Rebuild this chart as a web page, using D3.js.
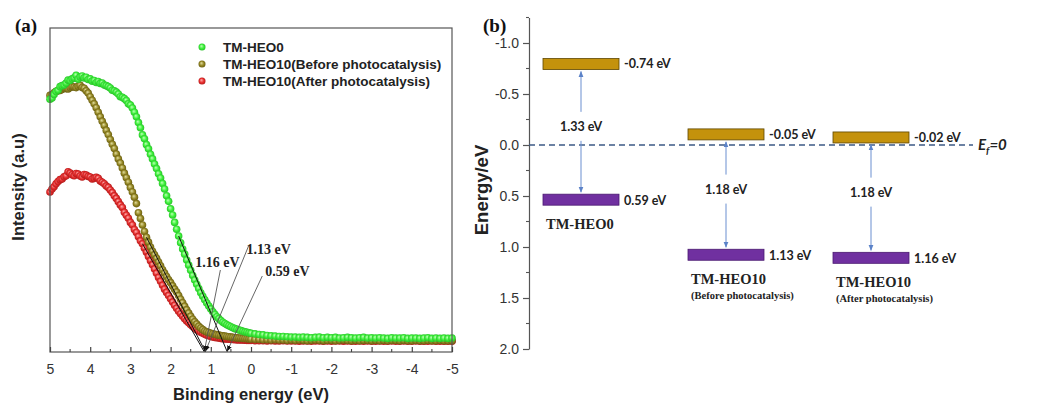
<!DOCTYPE html>
<html>
<head>
<meta charset="utf-8">
<script src="https://cdn.jsdelivr.net/npm/d3@7"></script>
<style>
  body { margin: 0; background: #fff; }
  svg { display: block; }
</style>
</head>
<body>
<svg id="chart" width="1043" height="403"></svg>
<script>
// ---------- (a) valence-band XPS spectra ----------
// sampled every 0.05 eV from 5 to 0 eV, every 0.1 eV below the Fermi level
const energies = d3.range(0, 101).map(i => +(5 - i * 0.05).toFixed(2))
  .concat(d3.range(1, 51).map(i => +(-i * 0.1).toFixed(1)));

const heo0 = [
  78, 78.4, 79.5, 80.4, 80.8, 81.9, 82.2, 82.4, 83, 83.9, 83.8, 84.3, 84.6, 85.4, 84.2, 84.9, 85.2, 84.6, 84.8, 84.1,
  84.3, 83.6, 83.8, 83.2, 83.5, 82.9, 83, 82.4, 82.2, 81.9, 81.5, 80.8, 80.6, 80.2, 79.6, 78.8, 78.6, 78.2, 77.6, 76.6,
  76.2, 75.3, 74, 72.6, 70.8, 69.2, 67, 65.8, 64, 62.7, 61, 59.6, 58, 56.6, 55, 53.7, 52, 50.3, 48.2, 46.5,
  44.2, 42.3, 40, 37.9, 35.8, 33.7, 31.8, 30.2, 28.4, 26.8, 25.2, 23.6, 22.2, 20.9, 19.6, 18.3, 17.2, 16.1, 15.1, 14.2,
  13.3, 12.4, 11.6, 10.9, 10.3, 9.7, 9.2, 8.8, 8.4, 8.1, 7.8, 7.5, 7.2, 7.0, 6.8, 6.6, 6.4, 6.2, 6.1, 5.9,
  5.8,
  5.6, 5.4, 5.3, 5.1, 5.0, 4.9, 4.8, 4.8, 4.7, 4.6,
  4.6, 4.5, 4.6, 4.5, 4.4, 4.5, 4.6, 4.4, 4.5, 4.4,
  4.5, 4.3, 4.4, 4.5, 4.4, 4.3, 4.4, 4.5, 4.3, 4.4,
  4.3, 4.4, 4.3, 4.2, 4.4, 4.3, 4.3, 4.4, 4.2, 4.3,
  4.3, 4.2, 4.3, 4.4, 4.2, 4.3, 4.2, 4.3, 4.2, 4.3
];
const heo10Before = [
  79.2, 79.4, 80, 80.5, 80.6, 80.7, 81, 81.4, 81.3, 81.2, 81.6, 81.9, 81.8, 81.6, 82, 82.3, 81.6, 81.4, 80.6, 79.9,
  78.8, 77.7, 76.6, 75.4, 74, 72.6, 71.2, 69.9, 68.4, 67.1, 65.6, 64.1, 62.8, 61.1, 59.6, 58.3, 56.8, 55.2, 53.8, 52.4,
  50.8, 49.4, 47.8, 45.8, 43, 41.2, 39.2, 37.2, 35.4, 33.9, 32.4, 31.1, 30.0, 28.9, 27.8, 26.6, 25.4, 24.4, 23.3, 22.3,
  21.4, 20.4, 19.4, 18.5, 17.4, 16.3, 15.2, 14.1, 13, 12, 11, 10.1, 9.3, 8.6, 7.9, 7.4, 6.9, 6.5, 6.2, 6.0,
  5.8, 5.6, 5.5, 5.3, 5.2, 5.1, 5.0, 4.9, 4.8, 4.7, 4.6, 4.5, 4.4, 4.35, 4.3, 4.25, 4.2, 4.15, 4.1, 4.05,
  4.0,
  3.9, 3.9, 3.8, 3.8, 3.7, 3.8, 3.7, 3.7, 3.6, 3.7,
  3.6, 3.7, 3.6, 3.5, 3.6, 3.7, 3.6, 3.5, 3.6, 3.6,
  3.5, 3.6, 3.7, 3.6, 3.5, 3.6, 3.5, 3.6, 3.6, 3.5,
  3.6, 3.5, 3.6, 3.5, 3.6, 3.6, 3.5, 3.6, 3.5, 3.5,
  3.6, 3.5, 3.5, 3.6, 3.5, 3.5, 3.6, 3.5, 3.5, 3.5
];
const heo10After = [
  49.4, 50.3, 51, 51.9, 52.6, 53.2, 53.4, 54.1, 54.4, 55.6, 55.2, 54.7, 54.4, 55.1, 54.9, 54.3, 54, 54.8, 54.6, 54.2,
  54, 53.4, 53.6, 53.9, 53.6, 52.8, 52.4, 51.9, 51.2, 50.8, 50, 49.2, 48.2, 47.4, 46.4, 45.4, 44.6, 43.1, 42.2, 41.3,
  40, 39.2, 37.8, 36.9, 35.6, 34.3, 33.4, 32.0, 30.8, 29.5, 28.2, 26.9, 25.6, 24.3, 23, 21.8, 20.6, 19.4, 18.4, 17.4,
  16.4, 15.4, 14.4, 13.5, 12.6, 11.8, 11, 10.3, 9.6, 9.0, 8.4, 7.9, 7.4, 6.9, 6.5, 6.1, 5.8, 5.5, 5.2, 5.0,
  4.8, 4.65, 4.5, 4.4, 4.3, 4.2, 4.1, 4.05, 4.0, 3.95, 3.9, 3.85, 3.8, 3.75, 3.7, 3.7, 3.7, 3.65, 3.6, 3.6,
  3.6,
  3.5, 3.5, 3.5, 3.4, 3.5, 3.4, 3.4, 3.5, 3.4, 3.4,
  3.4, 3.3, 3.4, 3.4, 3.3, 3.4, 3.4, 3.3, 3.4, 3.3,
  3.4, 3.4, 3.3, 3.4, 3.3, 3.3, 3.4, 3.3, 3.4, 3.3,
  3.3, 3.4, 3.3, 3.3, 3.4, 3.3, 3.3, 3.4, 3.3, 3.3,
  3.4, 3.3, 3.3, 3.3, 3.4, 3.3, 3.3, 3.3, 3.3, 3.3
];
const seriesNames = ["TM-HEO0", "TM-HEO10(Before photocatalysis)", "TM-HEO10(After photocatalysis)"];
const edgeOnsets = [0.59, 1.13, 1.16];       // extrapolated VB edges, per series
const tangentFrom = [1.8, 2.6, 2.7];         // energy where each edge tangent starts
const xTicks = [5, 4, 3, 2, 1, 0, -1, -2, -3, -4, -5];
const xMinorTicks = [4.5, 3.5, 2.5, 1.5, 0.5, -0.5, -1.5, -2.5, -3.5, -4.5];

// ---------- (b) band alignment ----------
const samples = ["TM-HEO0", "TM-HEO10", "TM-HEO10"];
const conditions = ["", "(Before photocatalysis)", "(After photocatalysis)"];
const cbLevels = [-0.74, -0.05, -0.02];
const vbLevels = [0.59, 1.13, 1.16];
const bandGaps = [1.33, 1.18, 1.18];
const energyTicks = [-1.0, -0.5, 0.0, 0.5, 1.0, 1.5, 2.0];
const energyMinorTicks = [-1.25, -0.75, -0.25, 0.25, 0.75, 1.25, 1.75];

const svg = d3.select("#chart");
const sans = "'Liberation Sans', Arial, sans-serif";
const serif = "'Liberation Serif', 'Times New Roman', serif";
const calib = "Lato, 'Open Sans', sans-serif";

const defs = svg.append("defs");
const ballColors = [
  { id: "ball-green", light: "#c0ffb8", base: "#3cf03a", dark: "#26b826" },
  { id: "ball-olive", light: "#e2dea0", base: "#968826", dark: "#62580c" },
  { id: "ball-red",   light: "#ffb0b0", base: "#e83030", dark: "#ac1616" }
];
ballColors.forEach(c => {
  const g = defs.append("radialGradient").attr("id", c.id)
    .attr("cx", "50%").attr("cy", "50%").attr("r", "55%")
    .attr("fx", "40%").attr("fy", "35%");
  g.append("stop").attr("offset", "0%").attr("stop-color", c.light);
  g.append("stop").attr("offset", "55%").attr("stop-color", c.base);
  g.append("stop").attr("offset", "100%").attr("stop-color", c.dark);
});
defs.append("marker").attr("id", "tip-black")
  .attr("viewBox", "0 0 10 10").attr("refX", 9).attr("refY", 5)
  .attr("markerWidth", 6).attr("markerHeight", 6).attr("orient", "auto")
  .attr("markerUnits", "userSpaceOnUse")
  .append("path").attr("d", "M0,1 L10,5 L0,9 Z").attr("fill", "#111");
defs.append("marker").attr("id", "tip-blue")
  .attr("viewBox", "0 0 10 10").attr("refX", 9).attr("refY", 5)
  .attr("markerWidth", 6).attr("markerHeight", 6).attr("orient", "auto")
  .attr("markerUnits", "userSpaceOnUse")
  .append("path").attr("d", "M0,1 L10,5 L0,9 Z").attr("fill", "#5b82c8");

// ===== Panel (a) =====
const pa = { left: 50, right: 452, top: 28, bottom: 352 };
const x = d3.scaleLinear().domain([5, -5]).range([pa.left, pa.right]);
const y = d3.scaleLinear().domain([0, 100]).range([pa.bottom, pa.top]);

const seriesValues = [heo0, heo10Before, heo10After];
const ballIds = ["ball-green", "ball-olive", "ball-red"];

// spectra: after-photocatalysis first, TM-HEO0 on top
[2, 1, 0].forEach(k => {
  svg.append("g").selectAll("circle")
    .data(energies.map((e, i) => ({ e, v: seriesValues[k][i] })))
    .join("circle")
    .attr("cx", d => x(d.e)).attr("cy", d => y(d.v)).attr("r", 3.8)
    .attr("fill", `url(#${ballIds[k]})`);
});

// edge tangents extrapolated to the baseline
[0, 1, 2].forEach(k => {
  const i = energies.indexOf(tangentFrom[k]);
  svg.append("line")
    .attr("x1", x(tangentFrom[k])).attr("y1", y(seriesValues[k][i]))
    .attr("x2", x(edgeOnsets[k])).attr("y2", y(0))
    .attr("stroke", "#111").attr("stroke-width", 1);
});

// frame
svg.append("rect")
  .attr("x", pa.left).attr("y", pa.top)
  .attr("width", pa.right - pa.left).attr("height", pa.bottom - pa.top)
  .attr("fill", "none").attr("stroke", "#555").attr("stroke-width", 1.2);

const xAxis = svg.append("g").attr("transform", `translate(0,${pa.bottom})`)
  .call(d3.axisBottom(x).tickValues(xTicks).tickSize(-5).tickSizeOuter(0)
    .tickPadding(12).tickFormat(d => String(d)));
xAxis.select(".domain").remove();
xAxis.selectAll(".tick line").attr("stroke", "#444").attr("stroke-width", 1.2);
xAxis.selectAll("text").attr("font-family", sans).attr("font-size", 14).attr("fill", "#333");
svg.append("g").selectAll("line").data(xMinorTicks).join("line")
  .attr("x1", d => x(d)).attr("x2", d => x(d))
  .attr("y1", pa.bottom).attr("y2", pa.bottom - 3)
  .attr("stroke", "#444").attr("stroke-width", 1.1);

// onset annotations (offsets of each label from its intercept)
const onsetLayout = [
  { dx: 38, ty: 276, lx: 35, ly: 276 },   // 0.59 eV
  { dx: 41, ty: 254, lx: 43, ly: 246 },   // 1.13 eV
  { dx: -9, ty: 267, lx: 16, ly: 270 }    // 1.16 eV
];
edgeOnsets.forEach((v, k) => {
  const L = onsetLayout[k];
  const x0 = x(v);
  svg.append("line")
    .attr("x1", x0 + L.lx).attr("y1", L.ly)
    .attr("x2", x0).attr("y2", pa.bottom - 1)
    .attr("stroke", "#555").attr("stroke-width", 0.9)
    .attr("marker-end", "url(#tip-black)");
  svg.append("text")
    .attr("x", x0 + L.dx).attr("y", L.ty)
    .attr("font-family", serif).attr("font-weight", "bold").attr("font-size", 14)
    .attr("fill", "#222")
    .text(v.toFixed(2) + " eV");
});

// legend
seriesNames.forEach((name, k) => {
  const ly = 47 + k * 17;
  svg.append("circle").attr("cx", 202).attr("cy", ly).attr("r", 3.5)
    .attr("fill", `url(#${ballIds[k]})`);
  svg.append("text").attr("x", 223).attr("y", ly + 5)
    .attr("font-family", sans).attr("font-weight", "bold").attr("font-size", 13.5)
    .attr("fill", "#222").text(name);
});

svg.append("text").attr("x", 15).attr("y", 32)
  .attr("font-family", serif).attr("font-weight", "bold").attr("font-size", 19)
  .attr("fill", "#111").text("(a)");
svg.append("text").attr("transform", "translate(24,187) rotate(-90)")
  .attr("text-anchor", "middle")
  .attr("font-family", sans).attr("font-weight", "bold").attr("font-size", 16.5)
  .attr("fill", "#222").text("Intensity (a.u)");
svg.append("text").attr("x", 251).attr("y", 400).attr("text-anchor", "middle")
  .attr("font-family", sans).attr("font-weight", "bold").attr("font-size", 16.5)
  .attr("fill", "#222").text("Binding energy (eV)");

// ===== Panel (b) =====
const axisX = 529;
const yb = d3.scaleLinear().domain([-1.25, 2.0]).range([17.5, 349]);
const xb = d3.scalePoint().domain([0, 1, 2]).range([581, 871]);
const barW = 76, barH = 11;

const yAxis = svg.append("g").attr("transform", `translate(${axisX},0)`)
  .call(d3.axisLeft(yb).tickValues(energyTicks).tickSize(6).tickSizeOuter(0)
    .tickPadding(4).tickFormat(d => d.toFixed(1)));
yAxis.select(".domain").attr("stroke", "#555").attr("stroke-width", 1.2);
yAxis.selectAll(".tick line").attr("stroke", "#555").attr("stroke-width", 1.2);
yAxis.selectAll("text").attr("font-family", sans).attr("font-size", 14).attr("fill", "#333");
svg.append("g").selectAll("line").data(energyMinorTicks).join("line")
  .attr("x1", axisX).attr("x2", axisX - 3)
  .attr("y1", d => yb(d)).attr("y2", d => yb(d))
  .attr("stroke", "#555").attr("stroke-width", 1.1);

// Fermi level
svg.append("line").attr("x1", axisX).attr("x2", 973)
  .attr("y1", yb(0)).attr("y2", yb(0))
  .attr("stroke", "#3d5a85").attr("stroke-width", 1.5).attr("stroke-dasharray", "6,4");
const ef = svg.append("text").attr("x", 978).attr("y", yb(0) + 5)
  .attr("font-family", calib).attr("font-style", "italic").attr("font-weight", "bold")
  .attr("font-size", 15).attr("fill", "#222");
ef.append("tspan").text("E");
ef.append("tspan").attr("font-size", 10).attr("dy", 4).text("f");
ef.append("tspan").attr("dy", -4).text("=0");

const fmtEv = v => v.toFixed(2) + " eV";

samples.forEach((name, i) => {
  const cx = xb(i);
  // conduction band edge
  svg.append("rect").attr("x", cx - barW / 2).attr("y", yb(cbLevels[i]) - barH)
    .attr("width", barW).attr("height", barH)
    .attr("fill", "#c4920c").attr("stroke", "#5e4600").attr("stroke-width", 0.8);
  // valence band edge
  svg.append("rect").attr("x", cx - barW / 2).attr("y", yb(vbLevels[i]) - barH)
    .attr("width", barW).attr("height", barH)
    .attr("fill", "#7030a0").attr("stroke", "#4a1a70").attr("stroke-width", 0.8);

  svg.append("text").attr("x", cx + barW / 2 + 5).attr("y", yb(cbLevels[i]) - barH / 2)
    .attr("dy", "0.35em")
    .attr("font-family", calib).attr("font-weight", "bold").attr("font-size", 12.5)
    .attr("fill", "#222").text(fmtEv(cbLevels[i]));
  svg.append("text").attr("x", cx + barW / 2 + 5).attr("y", yb(vbLevels[i]) - barH / 2 + 1)
    .attr("dy", "0.35em")
    .attr("font-family", calib).attr("font-weight", "bold").attr("font-size", 12.5)
    .attr("fill", "#222").text(fmtEv(vbLevels[i]));

  // band-gap arrows
  const cbBottom = yb(cbLevels[i]);
  const vbTop = yb(vbLevels[i]) - barH;
  const mid = (cbBottom + vbTop) / 2 - 5;
  svg.append("line").attr("x1", cx).attr("x2", cx)
    .attr("y1", mid - 15).attr("y2", cbBottom + 2)
    .attr("stroke", "#6a8fd0").attr("stroke-width", 1)
    .attr("marker-end", "url(#tip-blue)");
  svg.append("line").attr("x1", cx).attr("x2", cx)
    .attr("y1", mid + 14).attr("y2", vbTop - 2)
    .attr("stroke", "#6a8fd0").attr("stroke-width", 1)
    .attr("marker-end", "url(#tip-blue)");
  svg.append("text").attr("x", cx).attr("y", mid).attr("dy", "0.35em")
    .attr("text-anchor", "middle")
    .attr("font-family", calib).attr("font-weight", "bold").attr("font-size", 12.5)
    .attr("fill", "#222").text(fmtEv(bandGaps[i]));

  // sample labels
  const ly = yb(vbLevels[i]) + 23.5;
  svg.append("text").attr("x", cx - barW / 2 + 3).attr("y", ly)
    .attr("font-family", serif).attr("font-weight", "bold").attr("font-size", 14.5)
    .attr("fill", "#222").text(name);
  if (conditions[i]) {
    svg.append("text").attr("x", cx - barW / 2 + 3).attr("y", ly + 15.5)
      .attr("font-family", serif).attr("font-weight", "bold").attr("font-size", 10.5)
      .attr("fill", "#222").text(conditions[i]);
  }
});

svg.append("text").attr("x", 483).attr("y", 32)
  .attr("font-family", serif).attr("font-weight", "bold").attr("font-size", 19)
  .attr("fill", "#111").text("(b)");
svg.append("text").attr("transform", "translate(488,190) rotate(-90)")
  .attr("text-anchor", "middle")
  .attr("font-family", sans).attr("font-weight", "bold").attr("font-size", 18.5)
  .attr("fill", "#222").text("Energy/eV");
</script>
</body>
</html>
